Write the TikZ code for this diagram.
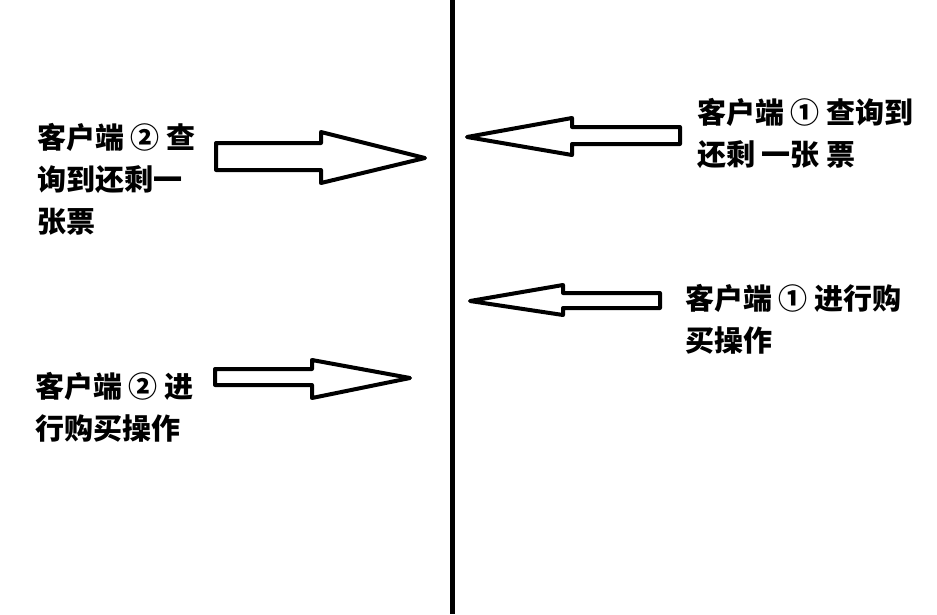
\documentclass[tikz,border=0pt]{standalone}
\usepackage{fontspec}
\newfontfamily\cjk{Noto Sans CJK SC}
\begin{document}
\begin{tikzpicture}[x=1pt,y=-1pt,line join=round,
  blockarrow/.style={draw=black,fill=white,line width=4pt},
  note/.style={anchor=base west,align=left,inner sep=0pt,
    font=\cjk\bfseries\fontsize{29}{42}\selectfont}]
  \useasboundingbox (0,0) rectangle (937,614);

  % divider between the two clients
  \coordinate (top) at (452.5,0);
  \coordinate (bottom) at (452.5,614);
  \draw[line width=5pt] (top) -- (bottom);

  % client 2, left side (node placed at the baseline of its last line)
  \node[note] (askleft) at (37,232) {客户端 ② 查\\询到还剩一\\张票};
  \draw[blockarrow] (216,143) -- (321,143) -- (321,132) -- (425,158)
    -- (321,183) -- (321,170) -- (216,170) -- cycle;

  \node[note] (buyleft) at (35,439) {客户端 ② 进\\行购买操作};
  \draw[blockarrow] (215,369) -- (312,369) -- (312,360) -- (410,378)
    -- (312,398) -- (312,385) -- (215,385) -- cycle;

  % client 1, right side
  \node[note] (askright) at (697,165) {客户端 ① 查询到\\还剩 一张 票};
  \draw[blockarrow] (680,127) -- (572,127) -- (572,118) -- (467,137)
    -- (572,155) -- (572,144) -- (680,144) -- cycle;

  \node[note] (buyright) at (685,351) {客户端 ① 进行购\\买操作};
  \draw[blockarrow] (660,293) -- (563,293) -- (563,285) -- (470,301)
    -- (563,315) -- (563,308) -- (660,308) -- cycle;

\end{tikzpicture}
\end{document}
